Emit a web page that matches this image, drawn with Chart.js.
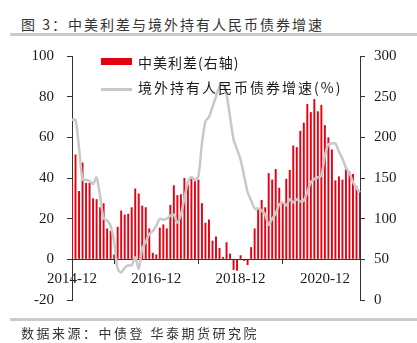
<!DOCTYPE html>
<html>
<head>
<meta charset="utf-8">
<script src="https://cdn.jsdelivr.net/npm/chart.js@4/dist/chart.umd.min.js"></script>
<style>
  body { margin: 0; width: 417px; height: 343px; position: relative; background: #fff; overflow: hidden; }
  #chart { position: absolute; left: 0; top: 0; }
  .txt { position: absolute; font-family: "Noto Sans CJK SC", sans-serif; white-space: nowrap; color: #1a1a1a; }
  .rule { position: absolute; left: 10px; right: 0; height: 3px; background: #cbcbcb; }
</style>
</head>
<body>
<div class="txt" style="left:21px; top:16px; font-size:14px; line-height:16px; letter-spacing:2px; color:#333;">图 3：中美利差与境外持有人民币债券增速</div>
<div class="rule" style="top:33px;"></div>
<canvas id="chart" width="417" height="343"></canvas>
<!-- legend -->
<div style="position:absolute; left:101px; top:58px; width:31px; height:7px; background:#e60012;"></div>
<div class="txt" style="left:138px; top:54px; font-size:14px; line-height:16px; letter-spacing:1px;">中美利差(右轴)</div>
<div style="position:absolute; left:101px; top:88px; width:31px; height:2.5px; background:#c8c8c8;"></div>
<div class="txt" style="left:138px; top:79px; font-size:14px; line-height:16px; letter-spacing:2px;">境外持有人民币债券增速(%)</div>
<div class="rule" style="top:318px;"></div>
<div class="txt" style="left:21px; top:325px; font-size:13px; line-height:15px; letter-spacing:2.5px; color:#333;">数据来源：中债登 华泰期货研究院</div>

<script>
// monthly categories, 2014-12 .. 2021-10
const startYear = 2014;
const startMonth = 12;
const monthCount = 83;
const months = [];
for (let k = 0; k < monthCount; k++) {
  const m = startMonth - 1 + k;
  const y = startYear + Math.floor(m / 12);
  months.push(`${y}-${String((m % 12) + 1).padStart(2, "0")}`);
}
const tickLabels = ["2014-12", "2016-12", "2018-12", "2020-12"];

// 中美利差 (bp, right axis)
const spreadBp = [
  145, 179, 134, 169, 144, 144, 125, 124, 114, 119,
  88, 85, 56, 90, 110, 105, 106, 114, 137, 131,
  116, 114, 88, 58, 56, 89, 93, 88, 117, 141,
  129, 130, 150, 142, 149, 146, 148, 119, 95, 99,
  73, 78, 64, 53, 71, 57, 37, 36, 55, 48,
  43, 65, 88, 112, 123, 114, 156, 148, 161, 138,
  120, 149, 160, 190, 188, 208, 218, 241, 231, 247,
  232, 240, 215, 200, 185, 147, 152, 148, 164, 158,
  155, 140, 133,
];

// 境外持有人民币债券增速 (%, left axis)
const holdingGrowth = [
  68.6, 68.6, 55, 39.2, 39, 38.5, 37, 40.2, 31, 20,
  19, 16.5, 8.5, -4.6, -6.5, -4.2, -3, -2.9, 1, -4.6,
  5.5, 8.5, 12.5, 14, 16.5, 20, 19.5, 20, 21.5, 22,
  18, 22, 30, 38, 40.5, 39, 41, 57, 68, 70,
  75, 80, 85, 86, 81, 70, 59, 54, 49, 41,
  33, 29, 25, 25, 24, 22, 17, 20, 22.5, 27,
  28, 26.5, 29.5, 28, 29.5, 28.5, 29, 33, 38, 39.5,
  40.3, 41, 51, 56.5, 57, 57, 53, 49.5, 45, 42.5,
  38, 35, 33,
];

const axisFont = { family: "'Liberation Serif', 'Times New Roman', serif", size: 15 };
const axisColor = "#333";
const labelColor = "#1a1a1a";

new Chart(document.getElementById("chart"), {
  data: {
    labels: months,
    datasets: [
      {
        type: "line",
        label: "境外持有人民币债券增速(%)",
        data: holdingGrowth,
        yAxisID: "y",
        borderColor: "#c8c8c8",
        borderWidth: 2.5,
        pointRadius: 0,
        tension: 0.25,
        order: 0,
      },
      {
        type: "bar",
        label: "中美利差(右轴)",
        data: spreadBp,
        yAxisID: "y1",
        base: 50, // bars hang from the 0 line of the left axis
        backgroundColor: "#e60012",
        barPercentage: 0.55,
        categoryPercentage: 1,
        order: 1,
      },
    ],
  },
  options: {
    responsive: false,
    animation: false,
    devicePixelRatio: 1,
    layout: { padding: { top: 56, bottom: 43, left: 0, right: 0 } },
    plugins: { legend: { display: false }, tooltip: { enabled: false } },
    scales: {
      x: {
        type: "category",
        position: { y: 0 },
        offset: false,
        grid: { display: true, drawOnChartArea: false, drawTicks: true, tickLength: 4, color: axisColor },
        border: { display: true, color: axisColor, width: 1 },
        ticks: {
          autoSkip: false,
          maxRotation: 0,
          padding: 7,
          font: axisFont,
          color: labelColor,
          callback: (v, i) => (tickLabels.includes(months[i]) ? months[i] : null),
        },
      },
      y: {
        position: "left",
        min: -20,
        max: 100,
        grid: { drawOnChartArea: false, drawTicks: true, tickLength: 5, color: axisColor },
        border: { display: true, color: axisColor, width: 1 },
        ticks: { stepSize: 20, padding: 13, font: axisFont, color: labelColor },
        afterFit(scale) { scale.width = 72; },
      },
      y1: {
        position: "right",
        min: 0,
        max: 300,
        grid: { drawOnChartArea: false, drawTicks: true, tickLength: 5, color: axisColor },
        border: { display: true, color: axisColor, width: 1 },
        ticks: { stepSize: 50, padding: 9, font: axisFont, color: labelColor },
        afterFit(scale) { scale.width = 57; },
      },
    },
  },
});
</script>
</body>
</html>
